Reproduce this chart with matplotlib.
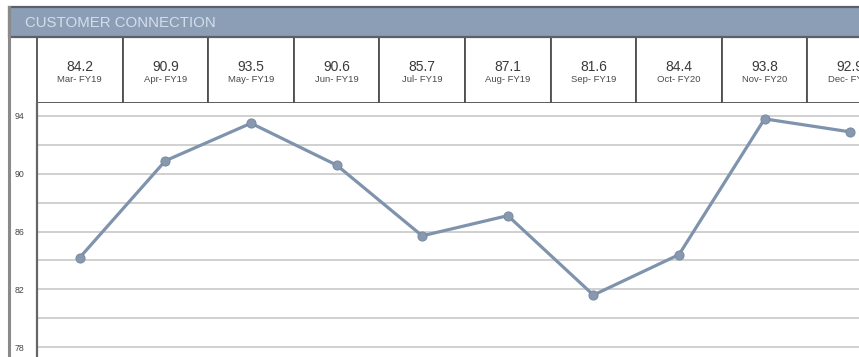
import matplotlib
matplotlib.use("Agg")
import matplotlib.pyplot as plt
from matplotlib.patches import Rectangle
from matplotlib.lines import Line2D

# Monthly customer connection scores
months = ["Mar- FY19", "Apr- FY19", "May- FY19", "Jun- FY19", "Jul- FY19",
          "Aug- FY19", "Sep- FY19", "Oct- FY20", "Nov- FY20", "Dec- FY20"]
scores = [84.2, 90.9, 93.5, 90.6, 85.7, 87.1, 81.6, 84.4, 93.8, 92.9]
y_ticks = [78, 82, 86, 90, 94]
y_minor = [80, 84, 88, 92]
title = "CUSTOMER CONNECTION"

W, H = 859, 357
fig = plt.figure(figsize=(W / 100, H / 100), dpi=100)
plt.rcParams["font.family"] = ["Liberation Sans", "DejaVu Sans"]


def box(x0, y0, x1, y1):
    """Pixel box (top-left origin) -> figure-fraction [left, bottom, width, height]."""
    return [x0 / W, 1 - y1 / H, (x1 - x0) / W, (y1 - y0) / H]


# Panel title bar
bar = Rectangle((9 / W, 1 - 37 / H), (W + 20) / W, 30 / H, transform=fig.transFigure,
                facecolor="#8b9eb6", edgecolor="#5b6068", linewidth=1.6, zorder=1)
fig.add_artist(bar)
fig.text(25 / W, 1 - 23 / H, title, color="#d3deea", fontsize=10.8,
         va="center", ha="left", zorder=3)

# Left panel frame
fig.add_artist(Line2D([9 / W, 9 / W], [0, 1 - 7 / H], transform=fig.transFigure,
                      color="#8a8a8a", linewidth=2.2, zorder=2))

n = len(scores)
x = list(range(n))
ax_left, ax_right = 37, 37 + 85.6 * n

# Header row of value boxes
hx = fig.add_axes(box(ax_left, 37, ax_right, 103))
hx.set_xlim(-0.5, n - 0.5)
hx.set_ylim(0, 1)
hx.axis("off")
for i, (m, v) in enumerate(zip(months, scores)):
    hx.add_patch(Rectangle((i - 0.5, 0), 1, 1, facecolor="white",
                           edgecolor="#4f4f4f", linewidth=1.3, clip_on=False))
    hx.text(i, 0.55, f"{v:.1f}", ha="center", va="center", fontsize=10, color="#3a3a3a")
    hx.text(i, 0.36, m, ha="center", va="center", fontsize=6.8, color="#4a4a4a")

# Line chart
ax = fig.add_axes(box(ax_left, 103, ax_right, 357))
ax.set_xlim(-0.5, n - 0.5)
ax.set_ylim(77.31, 94.9)
ax.set_yticks(y_ticks)
ax.set_yticks(y_minor, minor=True)
ax.set_yticklabels([str(t) for t in y_ticks], fontsize=6.3, color="#444444")
ax.tick_params(axis="y", which="both", length=0, pad=9)
ax.set_xticks([])
ax.grid(axis="y", which="both", color="#d0d0d0", linewidth=1.4)
ax.set_axisbelow(True)
for s in ("top", "right", "bottom"):
    ax.spines[s].set_visible(False)
ax.spines["left"].set_color("#666666")
ax.spines["left"].set_linewidth(1.6)

ax.plot(x, scores, color="#7f93ad", linewidth=2.3, marker="o", markersize=6.5,
        markerfacecolor="#8798af", markeredgecolor="#7a8ca4", markeredgewidth=0.8,
        clip_on=False, zorder=3)

fig.savefig("out.png", dpi=100)
